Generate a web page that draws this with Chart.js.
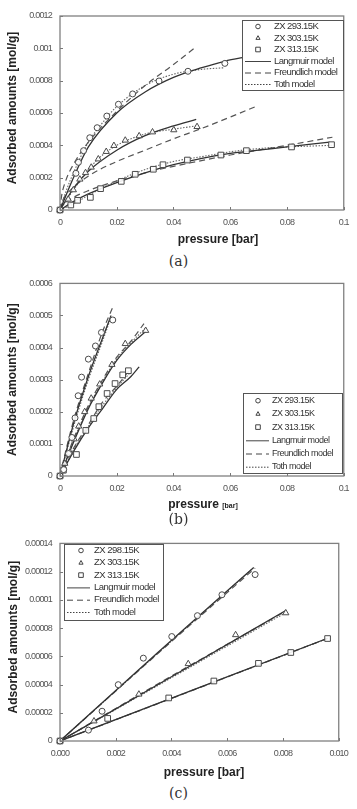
<!DOCTYPE html>
<html>
<head>
<meta charset="utf-8">
<script src="https://cdn.jsdelivr.net/npm/chart.js@4.4.1/dist/chart.umd.min.js"></script>
<style>
  body { margin: 0; background: #fff; width: 357px; height: 809px; position: relative; overflow: hidden; }
  canvas { position: absolute; left: 0; }
  .cap { position: absolute; left: 0; width: 357px; text-align: center; font-family: 'DejaVu Serif', 'Liberation Serif', serif; font-size: 14px; color: #333; }
</style>
</head>
<body>
<canvas id="chartA" width="357" height="250" style="top:0"></canvas>
<canvas id="chartB" width="357" height="245" style="top:270px"></canvas>
<canvas id="chartC" width="357" height="255" style="top:530px"></canvas>
<div class="cap" style="top:253px">(a)</div>
<div class="cap" style="top:511px">(b)</div>
<div class="cap" style="top:785px">(c)</div>
<script>
// ---- panel (a) ----
const aSeries = ['ZX 293.15K', 'ZX 303.15K', 'ZX 313.15K'];
const models = ['Langmuir model', 'Freundlich model', 'Toth model'];
const aXTicks = [0, 0.02, 0.04, 0.06, 0.08, 0.1];
const aXLabels = ['0', '0.02', '0.04', '0.06', '0.08', '0.1'];
const aYTicks = [0, 0.0002, 0.0004, 0.0006, 0.0008, 0.001, 0.0012];
const aYLabels = ['0', '0.0002', '0.0004', '0.0006', '0.0008', '0.001', '0.0012'];

const aPts293 = [[0,0],[0.0056,0.000227],[0.0065,0.000295],[0.0083,0.000367],[0.0105,0.000447],[0.0131,0.000509],[0.0165,0.000581],[0.0206,0.000654],[0.0256,0.000718],[0.0349,0.000798],[0.0451,0.000858],[0.0581,0.000907]];
const aPts303 = [[0,0],[0.0029,0.000066],[0.0047,0.000124],[0.007,0.00019],[0.009,0.00023],[0.011,0.000264],[0.0135,0.000315],[0.0163,0.000361],[0.019,0.000398],[0.023,0.000431],[0.0279,0.000458],[0.0326,0.000482],[0.0401,0.000495],[0.0483,0.000515]];
const aPts313 = [[0,0],[0.0038,0.000031],[0.0062,0.00006],[0.0107,0.000078],[0.0143,0.000132],[0.0216,0.000177],[0.0265,0.000221],[0.0329,0.000252],[0.0363,0.00028],[0.0449,0.000309],[0.0567,0.00034],[0.0657,0.000367],[0.0816,0.00039],[0.0957,0.000404]];

const aLang293 = [[0,0],[0.005,0.00021],[0.01,0.00039],[0.02,0.0006],[0.03,0.00073],[0.04,0.00082],[0.05,0.00088],[0.058,0.00092],[0.0665,0.00095]];
const aFreu293 = [[0,0],[0.0005,0.00008],[0.002,0.00018],[0.005,0.00029],[0.01,0.00042],[0.02,0.00061],[0.03,0.00077],[0.04,0.0009],[0.048,0.00101]];
const aToth293 = [[0,0],[0.002,0.00011],[0.005,0.00024],[0.01,0.00042],[0.015,0.00054],[0.02,0.00064],[0.03,0.00077],[0.04,0.00084],[0.05,0.00087],[0.058,0.00088]];
const aLang303 = [[0,0],[0.005,0.00014],[0.01,0.00024],[0.02,0.00037],[0.03,0.00046],[0.04,0.00052],[0.048,0.00056]];
const aFreu303 = [[0,0],[0.001,0.00006],[0.003,0.00011],[0.01,0.00021],[0.02,0.0003],[0.03,0.00037],[0.04,0.00044],[0.05,0.000505],[0.06,0.000575],[0.069,0.00064]];
const aToth303 = [[0,0],[0.003,0.00008],[0.005,0.00013],[0.01,0.00025],[0.015,0.00034],[0.02,0.0004],[0.03,0.00047],[0.04,0.0005],[0.048,0.00052]];
const aLang313 = [[0,0],[0.005,0.000055],[0.01,0.0001],[0.02,0.00017],[0.03,0.00023],[0.04,0.00028],[0.05,0.00032],[0.06,0.00035],[0.07,0.00037],[0.08,0.00039],[0.095,0.00042]];
const aFreu313 = [[0,0],[0.001,0.00003],[0.005,0.00008],[0.01,0.00012],[0.02,0.00018],[0.03,0.00023],[0.04,0.00027],[0.06,0.00034],[0.08,0.0004],[0.096,0.00045]];
const aToth313 = [[0,0],[0.005,0.00004],[0.01,0.00009],[0.02,0.00018],[0.03,0.00025],[0.04,0.0003],[0.05,0.00033],[0.06,0.00036],[0.07,0.00038],[0.08,0.00039],[0.096,0.0004]];

// ---- panel (b) ----
const bSeries = ['ZX 293.15K', 'ZX 303.15K', 'ZX 313.15K'];
const bXTicks = [0, 0.02, 0.04, 0.06, 0.08, 0.1];
const bXLabels = ['0', '0.02', '0.04', '0.06', '0.08', '0.1'];
const bYTicks = [0, 0.0001, 0.0002, 0.0003, 0.0004, 0.0005, 0.0006];
const bYLabels = ['0', '0.0001', '0.0002', '0.0003', '0.0004', '0.0005', '0.0006'];

const bPts293 = [[0,0],[0.0013,0.00002],[0.003,0.00007],[0.0042,0.00012],[0.0053,0.000181],[0.0064,0.00025],[0.0076,0.000308],[0.01,0.000364],[0.0125,0.000405],[0.0146,0.000447],[0.0186,0.000486]];
const bPts303 = [[0,0],[0.0017,0.000039],[0.0035,0.000074],[0.005,0.000115],[0.0066,0.000155],[0.0087,0.0002],[0.011,0.000242],[0.014,0.000286],[0.0183,0.000347],[0.023,0.000412],[0.0302,0.000453]];
const bPts313 = [[0,0],[0.0012,0.000018],[0.0058,0.000067],[0.0091,0.000142],[0.0119,0.000179],[0.0137,0.000216],[0.0166,0.000257],[0.0194,0.000288],[0.0221,0.000315],[0.0241,0.000328]];

const bLang293 = [[0,0],[0.005,0.00017],[0.01,0.00031],[0.015,0.00043],[0.018,0.0005]];
const bFreu293 = [[0,0],[0.001,0.00004],[0.005,0.00018],[0.01,0.00032],[0.015,0.00045],[0.0188,0.00053]];
const bToth293 = [[0,0],[0.005,0.00016],[0.01,0.0003],[0.015,0.00042],[0.0178,0.00049]];
const bLang303 = [[0,0],[0.005,0.00011],[0.01,0.00021],[0.015,0.00029],[0.02,0.00036],[0.025,0.00041],[0.0302,0.00045]];
const bFreu303 = [[0,0],[0.002,0.00005],[0.005,0.00012],[0.01,0.00022],[0.015,0.0003],[0.02,0.00037],[0.025,0.00042],[0.0296,0.000475]];
const bToth303 = [[0,0],[0.005,0.000115],[0.01,0.000215],[0.015,0.000295],[0.02,0.000365],[0.025,0.000415],[0.03,0.00046]];
const bLang313 = [[0,0],[0.005,0.00008],[0.01,0.00015],[0.015,0.00021],[0.02,0.00027],[0.025,0.00031],[0.0279,0.00034]];
const bFreu313 = [[0,0],[0.002,0.00004],[0.005,0.00009],[0.01,0.00016],[0.015,0.00023],[0.02,0.00028],[0.0245,0.00033]];
const bToth313 = [[0,0],[0.005,0.000085],[0.01,0.000155],[0.015,0.00022],[0.02,0.000275],[0.0245,0.00032]];

// ---- panel (c) ----
const cSeries = ['ZX 298.15K', 'ZX 303.15K', 'ZX 313.15K'];
const cXTicks = [0, 0.002, 0.004, 0.006, 0.008, 0.01];
const cXLabels = ['0.000', '0.002', '0.004', '0.006', '0.008', '0.010'];
const cYTicks = [0, 0.00002, 0.00004, 0.00006, 0.00008, 0.0001, 0.00012, 0.00014];
const cYLabels = ['0', '0.00002', '0.00004', '0.00006', '0.00008', '0.0001', '0.00012', '0.00014'];

const cPts298 = [[0,0],[0.00102,0.0000077],[0.00151,0.0000211],[0.00209,0.0000399],[0.00299,0.0000587],[0.00401,0.000074],[0.00493,0.0000888],[0.00581,0.0001036],[0.007,0.0001179]];
const cPts303 = [[0,0],[0.00122,0.0000141],[0.00283,0.0000331],[0.0046,0.0000547],[0.0063,0.0000752],[0.0081,0.0000907]];
const cPts313 = [[0,0],[0.00171,0.000016],[0.0039,0.0000305],[0.00552,0.0000425],[0.00712,0.000055],[0.00828,0.0000627],[0.0096,0.0000726]];

const cLang298 = [[0,0],[0.0035,0.0000625],[0.00695,0.000123]];
const cFreu298 = [[0,0],[0.0035,0.0000618],[0.007,0.0001225]];
const cToth298 = [[0,0],[0.0035,0.000062],[0.0069,0.000122]];
const cLang303 = [[0,0],[0.004,0.0000455],[0.0081,0.0000925]];
const cFreu303 = [[0,0],[0.004,0.000046],[0.0081,0.000092]];
const cToth303 = [[0,0],[0.004,0.0000448],[0.0081,0.000091]];
const cLang313 = [[0,0],[0.0048,0.0000364],[0.0096,0.0000728]];
const cFreu313 = [[0,0],[0.0048,0.0000362],[0.0096,0.0000727]];
const cToth313 = [[0,0],[0.0048,0.0000363],[0.0096,0.0000726]];

const tickFont = "'Liberation Sans', sans-serif";
const markStyles = ['circle', 'triangle', 'rect'];
const dashes = [[], [6, 4], [1.5, 1.5]];
const lineColors = ['#333', '#555', '#666'];
const lineWidths = [1.3, 1.2, 1.1];

function pts(arr) {
    return arr.map(p => ({ x: p[0], y: p[1] }));
}

function marker(arr, i) {
    return {
        data: pts(arr), showLine: false, clip: 8,
        pointStyle: markStyles[i], pointRadius: i === 2 ? 4 : (i === 1 ? 3.6 : 3),
        pointBorderColor: '#4a4a4a', pointBackgroundColor: 'rgba(255,255,255,0.9)', pointBorderWidth: 1
    };
}

function curve(arr, m) {
    return {
        data: pts(arr), showLine: true, pointRadius: 0, fill: false,
        borderColor: lineColors[m], borderWidth: lineWidths[m], borderDash: dashes[m],
        cubicInterpolationMode: 'monotone'
    };
}

function drawMark(ctx, style, x, y, r) {
    ctx.beginPath();
    if (style === 'circle') ctx.arc(x, y, r, 0, Math.PI * 2);
    else if (style === 'triangle') { ctx.moveTo(x, y - r); ctx.lineTo(x + r * 0.9, y + r * 0.6); ctx.lineTo(x - r * 0.9, y + r * 0.6); ctx.closePath(); }
    else ctx.rect(x - r, y - r, r * 2, r * 2);
    ctx.stroke();
}

const framePlugin = {
    id: 'framePlugin',
    beforeDraw(chart) {
        // narrow the tick labels a little, like the condensed face in the figure
        chart.ctx.letterSpacing = '-0.8px';
    },
    afterDatasetsDraw(chart, args, o) {
        const ctx = chart.ctx, a = chart.chartArea;
        const xs = chart.scales.x, ys = chart.scales.y;
        ctx.save();
        // inward tick marks
        ctx.strokeStyle = '#777'; ctx.lineWidth = 1;
        ctx.beginPath();
        xs.ticks.forEach(t => { const px = Math.round(xs.getPixelForValue(t.value)) + 0.5; ctx.moveTo(px, a.bottom); ctx.lineTo(px, a.bottom - 3); });
        ys.ticks.forEach(t => { const py = Math.round(ys.getPixelForValue(t.value)) + 0.5; ctx.moveTo(a.left, py); ctx.lineTo(a.left + 3, py); });
        ctx.stroke();
        // plot frame
        ctx.strokeStyle = '#808080'; ctx.lineWidth = 1.3;
        ctx.strokeRect(a.left, a.top, a.right - a.left, a.bottom - a.top);

        // legend box
        const L = o.legend;
        ctx.fillStyle = '#fff';
        ctx.fillRect(L.x, L.y, L.w, L.h);
        ctx.strokeStyle = '#555'; ctx.lineWidth = 1;
        ctx.strokeRect(L.x + 0.5, L.y + 0.5, L.w, L.h);
        ctx.font = L.font; ctx.letterSpacing = L.spacing;
        ctx.textBaseline = 'middle'; ctx.textAlign = 'left'; ctx.fillStyle = '#333';
        L.labels.forEach((lab, i) => {
            const y = L.y + L.first + i * L.step;
            ctx.strokeStyle = '#444'; ctx.lineWidth = 1;
            if (i < 3) {
                ctx.setLineDash([]);
                drawMark(ctx, markStyles[i], L.mx, y, 2.3);
            } else {
                ctx.setLineDash(dashes[i - 3]);
                ctx.beginPath(); ctx.moveTo(L.lx0, y + 0.5); ctx.lineTo(L.lx1, y + 0.5); ctx.stroke();
                ctx.setLineDash([]);
            }
            ctx.fillText(lab, L.tx, y);
        });

        // axis titles
        ctx.letterSpacing = '0px';
        ctx.fillStyle = '#222';
        ctx.font = "bold 12px 'Liberation Sans', sans-serif";
        ctx.textAlign = 'center';
        ctx.save();
        ctx.translate(o.yTitleX, (a.top + a.bottom) / 2 + o.yTitleShift);
        ctx.rotate(-Math.PI / 2);
        ctx.fillText('Adsorbed amounts [mol/g]', 0, 0);
        ctx.restore();
        if (o.smallUnit) {
            ctx.textAlign = 'left';
            const w1 = ctx.measureText('pressure ').width;
            ctx.font = "bold 7px 'Liberation Sans', sans-serif";
            const w2 = ctx.measureText('[bar]').width;
            const x0 = o.xTitleX - (w1 + w2) / 2;
            ctx.font = "bold 12px 'Liberation Sans', sans-serif";
            ctx.fillText('pressure ', x0, o.xTitleY);
            ctx.font = "bold 7px 'Liberation Sans', sans-serif";
            ctx.fillText('[bar]', x0 + w1, o.xTitleY + 1);
        } else {
            ctx.fillText('pressure [bar]', o.xTitleX, o.xTitleY);
        }
        ctx.restore();
    }
};

function buildChart(id, p) {
    const datasets = [];
    p.points.forEach((arr, i) => datasets.push(marker(arr, i)));
    p.curves.forEach(group => group.forEach((arr, m) => datasets.push(curve(arr, m))));
    const H = document.getElementById(id).height;
    return new Chart(document.getElementById(id).getContext('2d'), {
        type: 'scatter',
        data: { datasets },
        plugins: [framePlugin],
        options: {
            responsive: false,
            animation: false,
            events: [],
            layout: { padding: { left: 0, right: 10, top: p.top, bottom: 0 } },
            plugins: {
                legend: { display: false },
                tooltip: { enabled: false },
                framePlugin: p.frame
            },
            scales: {
                x: {
                    type: 'linear', min: p.xTicks[0], max: p.xTicks[p.xTicks.length - 1],
                    grid: { display: false, drawTicks: false }, border: { display: false },
                    afterBuildTicks: s => { s.ticks = p.xTicks.map(v => ({ value: v })); },
                    afterFit: s => { s.height = H - p.bottom; },
                    ticks: {
                        autoSkip: false, maxRotation: 0, padding: 7, color: '#555',
                        font: { family: tickFont, size: 9 },
                        callback: (v, i) => p.xLabels[i]
                    }
                },
                y: {
                    type: 'linear', min: p.yTicks[0], max: p.yTicks[p.yTicks.length - 1],
                    grid: { display: false, drawTicks: false }, border: { display: false },
                    afterBuildTicks: s => { s.ticks = p.yTicks.map(v => ({ value: v })); },
                    afterFit: s => { s.width = 60; },
                    ticks: {
                        autoSkip: false, padding: 8, color: '#555',
                        font: { family: tickFont, size: 9 },
                        callback: (v, i) => p.yLabels[i]
                    }
                }
            }
        }
    });
}

const legendFont = "9.5px 'Liberation Sans', sans-serif";

buildChart('chartA', {
    top: 16, bottom: 210,
    xTicks: aXTicks, xLabels: aXLabels, yTicks: aYTicks, yLabels: aYLabels,
    points: [aPts293, aPts303, aPts313],
    curves: [[aLang293, aFreu293, aToth293], [aLang303, aFreu303, aToth303], [aLang313, aFreu313, aToth313]],
    frame: {
        yTitleX: 13, yTitleShift: -5, xTitleX: 218, xTitleY: 240, smallUnit: false,
        legend: { x: 242, y: 20, w: 101, h: 70, first: 6.5, step: 11.5, mx: 258, lx0: 245, lx1: 271, tx: 274,
                  font: legendFont, spacing: '-0.6px', labels: aSeries.concat(models) }
    }
});

buildChart('chartB', {
    top: 9.3, bottom: 206,
    xTicks: bXTicks, xLabels: bXLabels, yTicks: bYTicks, yLabels: bYLabels,
    points: [bPts293, bPts303, bPts313],
    curves: [[bLang293, bFreu293, bToth293], [bLang303, bFreu303, bToth303], [bLang313, bFreu313, bToth313]],
    frame: {
        yTitleX: 13, yTitleShift: 0, xTitleX: 203, xTitleY: 235, smallUnit: true,
        legend: { x: 243, y: 123, w: 99, h: 80, first: 7.7, step: 13.2, mx: 258, lx0: 246, lx1: 269, tx: 272,
                  font: "9px 'Liberation Sans', sans-serif", spacing: '-0.5px', labels: bSeries.concat(models) }
    }
});

buildChart('chartC', {
    top: 12.3, bottom: 211,
    xTicks: cXTicks, xLabels: cXLabels, yTicks: cYTicks, yLabels: cYLabels,
    points: [cPts298, cPts303, cPts313],
    curves: [[cLang298, cFreu298, cToth298], [cLang303, cFreu303, cToth303], [cLang313, cFreu313, cToth313]],
    frame: {
        yTitleX: 14, yTitleShift: -5, xTitleX: 204, xTitleY: 243, smallUnit: false,
        legend: { x: 64, y: 14, w: 99, h: 76, first: 6.5, step: 12.3, mx: 81, lx0: 67, lx1: 90, tx: 94,
                  font: legendFont, spacing: '-0.5px', labels: cSeries.concat(models) }
    }
});
</script>
</body>
</html>
